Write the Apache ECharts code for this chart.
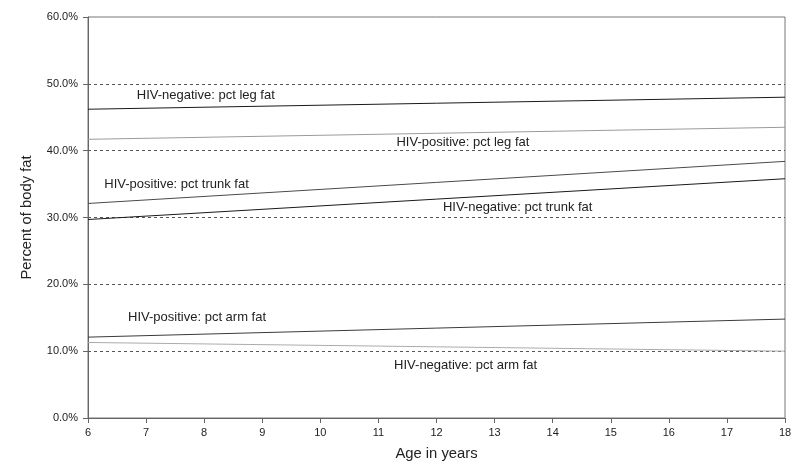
<!DOCTYPE html>
<html>
<head>
<meta charset="utf-8">
<script src="https://cdn.jsdelivr.net/npm/echarts@6/dist/echarts.min.js"></script>
<style>html,body{margin:0;padding:0;background:#fff;}#c{width:800px;height:476px;}</style>
</head>
<body>
<div id="c"></div>
<script>
var ages = [6, 18];
var negLeg = [46.2, 48.0];
var posLeg = [41.7, 43.5];
var posTrunk = [32.1, 38.4];
var negTrunk = [29.7, 35.8];
var posArm = [12.1, 14.8];
var negArm = [11.3, 10.0];

var seriesNames = ['HIV-negative: pct leg fat','HIV-positive: pct leg fat','HIV-positive: pct trunk fat','HIV-negative: pct trunk fat','HIV-positive: pct arm fat','HIV-negative: pct arm fat'];
var seriesData = [negLeg, posLeg, posTrunk, negTrunk, posArm, negArm];
var seriesColors = ['#1a1a1a','#9a9a9a','#4a4a4a','#1a1a1a','#3a3a3a','#ababab'];
// label anchor positions (age, percent)
var labelAge = [6.84, 11.31, 6.28, 12.11, 6.69, 11.27];
var labelPct = [48.2, 41.2, 35.0, 31.5, 15.1, 7.9];

var FONT = 'Liberation Sans, Arial, sans-serif';

var series = seriesNames.map(function(n, i){
  return {
    name: n, type: 'line', symbol: 'none', silent: true,
    data: ages.map(function(a, j){ return [a, seriesData[i][j]]; }),
    lineStyle: {color: seriesColors[i], width: 1},
    markPoint: {
      symbol: 'circle', symbolSize: 0, silent: true,
      data: [{coord: [labelAge[i], labelPct[i]], value: n}],
      label: {show: true, position: 'inside', align: 'left', verticalAlign: 'middle',
        formatter: n, color: '#222', fontSize: 13, fontFamily: FONT}
    }
  };
});

var chart = echarts.init(document.getElementById('c'));
chart.setOption({
  animation: false,
  grid: {left: 88, right: 15, top: 17, bottom: 58, show: true, borderColor: '#777', borderWidth: 1},
  xAxis: {
    type: 'value', min: 6, max: 18, interval: 1,
    name: 'Age in years', nameLocation: 'middle', nameGap: 28,
    nameTextStyle: {fontSize: 14.8, color: '#222', fontFamily: FONT},
    axisLine: {lineStyle: {color: '#666'}},
    axisTick: {show: true, length: 5, lineStyle: {color: '#666'}},
    axisLabel: {fontSize: 11, color: '#222', margin: 9, fontFamily: FONT},
    splitLine: {show: false}
  },
  yAxis: {
    type: 'value', min: 0, max: 60, interval: 10,
    name: 'Percent of body fat', nameLocation: 'middle', nameGap: 54,
    nameTextStyle: {fontSize: 14.8, color: '#222', fontFamily: FONT},
    axisLine: {show: true, lineStyle: {color: '#666'}},
    axisTick: {show: true, length: 5, lineStyle: {color: '#666'}},
    axisLabel: {fontSize: 11, color: '#222', margin: 10, fontFamily: FONT,
      formatter: function(v){ return v.toFixed(1) + '%'; }},
    splitLine: {show: true, showMinLine: false, showMaxLine: false, lineStyle: {color: '#555', type: [3, 3], width: 1}}
  },
  series: series
});
</script>
</body>
</html>
